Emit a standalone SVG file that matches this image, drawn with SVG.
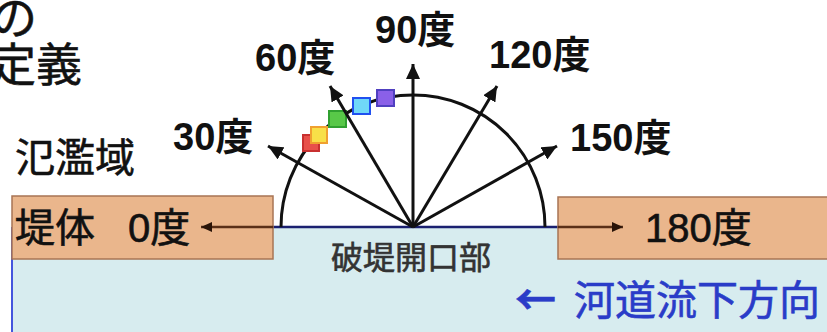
<svg xmlns="http://www.w3.org/2000/svg" width="827" height="332" viewBox="0 0 827 332">
<style>
.t{font-family:"Liberation Sans","Noto Sans CJK JP",sans-serif;}
.cjk{font-family:"Noto Sans CJK JP",sans-serif;}
.md{stroke-width:0.6;}
.lbl{font-size:38px;font-weight:bold;fill:#111;}
.big{font-size:40px;fill:#111;stroke:#111;}
.ray{stroke:#111;stroke-width:3;fill:none;marker-end:url(#ah);}
.hz{stroke:#5a3018;stroke-width:2.5;fill:none;marker-end:url(#ah2);}
.bank{fill:#eab68c;stroke:#a87454;stroke-width:1.5;}
.sq{stroke-width:2;}
</style>
<defs>
<marker id="ah" markerUnits="userSpaceOnUse" markerWidth="16" markerHeight="14" refX="15" refY="7" orient="auto">
<path d="M0,0 L15,7 L0,14 z" fill="#111"/>
</marker>
<marker id="ah2" markerUnits="userSpaceOnUse" markerWidth="12" markerHeight="10" refX="11" refY="5" orient="auto">
<path d="M0,0 L11,5 L0,10 z" fill="#2a1408"/>
</marker>
</defs>
<rect width="827" height="332" fill="#ffffff"/>
<g id="river">
<rect x="12" y="227" width="830" height="110" fill="#d7ecef"/>
<line x1="12" y1="227" x2="12" y2="332" stroke="#4455dd" stroke-width="2"/>
<line x1="273" y1="227" x2="558" y2="227" stroke="#1a2070" stroke-width="2.5"/>
</g>
<g id="bank-left"><rect class="bank" x="12" y="196" width="261" height="63"/></g>
<g id="bank-right"><rect class="bank" x="558" y="197" width="280" height="62"/></g>
<g id="arc"><path d="M281,227 A132,132 0 0 1 545,227" fill="none" stroke="#111" stroke-width="3"/></g>
<g id="squares">
<rect class="sq" x="303" y="135" width="16" height="16" fill="#e8504a" stroke="#c83030"/>
<rect class="sq" x="311" y="127" width="16" height="16" fill="#f8e048" stroke="#f0a030"/>
<rect class="sq" x="329" y="111" width="17" height="16" fill="#58c848" stroke="#30a030"/>
<rect class="sq" x="353" y="98" width="17" height="16" fill="#70d8f8" stroke="#2050f0"/>
<rect class="sq" x="377" y="90" width="17" height="16" fill="#8a60e8" stroke="#5040c0"/>
</g>
<g id="connectors">
<line class="ray" x1="413" y1="227" x2="268" y2="146"/>
<line class="ray" x1="413" y1="227" x2="330" y2="86"/>
<line class="ray" x1="413" y1="227" x2="413" y2="64"/>
<line class="ray" x1="413" y1="227" x2="497" y2="86"/>
<line class="ray" x1="413" y1="227" x2="557" y2="146"/>
<line class="hz" x1="273" y1="227" x2="201" y2="227"/>
<line class="hz" x1="558" y1="227" x2="623" y2="227"/>
</g>
<g id="title">
<text class="t md" x="-9" y="34" font-size="46" fill="#111" stroke="#111">の</text>
<text class="t md" x="-10" y="81" font-size="46" fill="#111" stroke="#111">定義</text>
</g>
<g id="floodplain"><text class="t md" x="15" y="172" font-size="40" fill="#111" stroke="#111">氾濫域</text></g>
<g id="labels">
<text class="t lbl" x="173" y="150">30度</text>
<text class="t lbl" x="255" y="71">60度</text>
<text class="t lbl" x="375" y="43">90度</text>
<text class="t lbl" x="489" y="68">120度</text>
<text class="t lbl" x="570" y="151">150度</text>
</g>
<g id="bank-left-label"><text class="t big md" x="15" y="242">堤体<tspan x="128">0度</tspan></text></g>
<g id="bank-right-label"><text class="t big md" x="645" y="242">180度</text></g>
<g id="breach"><text class="t md" x="331" y="269" font-size="32" fill="#333" stroke="#333">破堤開口部</text></g>
<g id="flow"><text class="t md" font-size="41" fill="#2a3cc8" stroke="#2a3cc8" y="315"><tspan class="cjk" x="515" font-weight="bold">←</tspan><tspan x="574">河道流下方向</tspan></text></g>
</svg>
